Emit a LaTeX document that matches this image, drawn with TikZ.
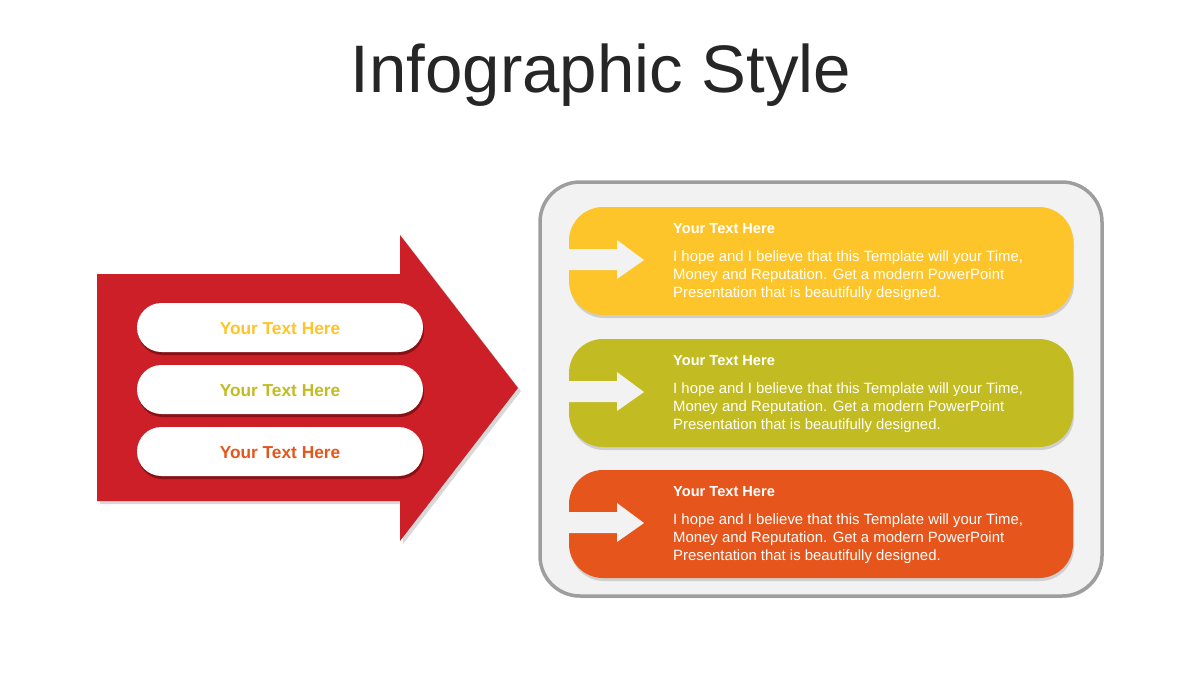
\documentclass[tikz,border=0pt]{standalone}
\usepackage{fontspec}
\setmainfont{Liberation Sans}
\usetikzlibrary{shadows}
\definecolor{redA}{HTML}{CC1F27}
\definecolor{yelA}{HTML}{FDC52A}
\definecolor{oliA}{HTML}{C3BB22}
\definecolor{oraA}{HTML}{E6551C}
\definecolor{panelA}{HTML}{F2F2F2}
\definecolor{titleA}{HTML}{262626}
\tikzset{
  pill/.style={fill=white, rounded corners=24.5pt, drop shadow={shadow xshift=1pt, shadow yshift=-3pt, opacity=.45, fill=black!80!red}},
  pilltext/.style={font=\fontsize{17.3}{20}\selectfont\bfseries, anchor=center},
  cbox/.style={rounded corners=34pt, drop shadow={shadow xshift=1pt, shadow yshift=-3pt, opacity=.3}},
  notch/.style={fill=panelA},
  bhead/.style={font=\fontsize{14.6}{17}\selectfont\bfseries, text=white, anchor=base west, inner sep=0pt},
  bbody/.style={font=\fontsize{14.9}{18}\selectfont, text=white, anchor=base west, align=left, inner sep=0pt},
}
\begin{document}
\begin{tikzpicture}[x=1pt,y=-1pt]
\useasboundingbox (0,0) rectangle (1200,675);
\fill[white] (0,0) rectangle (1200,675);
% title
\node[anchor=base, font=\fontsize{67.2}{80}\selectfont, text=titleA, inner sep=0pt] (title) at (601,92) {Infographic Style};
% red arrow
\fill[redA, drop shadow={shadow xshift=3pt, shadow yshift=-3pt, opacity=.3}] (97,274) -- (400,274) -- (400,235) -- (518,388) -- (400,541) -- (400,501) -- (97,501) -- cycle;
% pills
\path[pill] (137,303) rectangle (423,352);
\path[pill] (137,365) rectangle (423,414);
\path[pill] (137,427) rectangle (423,476);
\node[pilltext, text=yelA] (p1) at (280,328.5) {Your Text Here};
\node[pilltext, text=oliA] (p2) at (280,390.5) {Your Text Here};
\node[pilltext, text=oraA] (p3) at (280,452.5) {Your Text Here};
% panel
\path[fill=panelA, draw=black!38, line width=3.5pt, rounded corners=40pt, drop shadow={shadow xshift=1pt, shadow yshift=-2pt, opacity=.25}] (540,182) rectangle (1102,596);
% boxes
\foreach \dy/\col/\nm in {0/yelA/a, 132/oliA/b, 263/oraA/c}{
  \begin{scope}[yshift=-\dy pt]
  \path[cbox, fill=\col] (569,207) rectangle (1073,315);
  \fill[notch] (569,249) -- (617,249) -- (617,240) -- (644,260) -- (617,279) -- (617,270) -- (569,270) -- cycle;
  \node[bhead] (h\nm) at (673,233) {Your Text Here};
  \node[bbody] (t\nm) at (673,297) {I hope and I believe that this Template will your Time,\\Money and Reputation. Get a modern PowerPoint\\Presentation that is beautifully designed.};
  \end{scope}
}
\end{tikzpicture}
\end{document}
